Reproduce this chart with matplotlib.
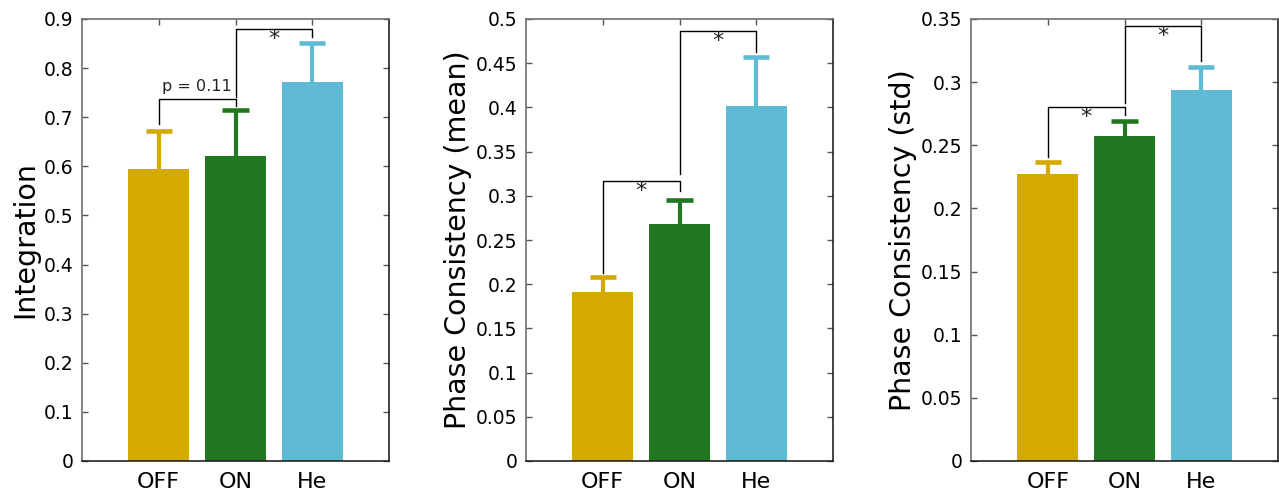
import matplotlib
matplotlib.use("Agg")
import matplotlib.pyplot as plt
import numpy as np

categories = ["OFF", "ON", "He"]
colors = ["#D4AA00", "#217821", "#5FBBD3"]

integration_mean = [0.595, 0.622, 0.771]
integration_err = [0.076, 0.093, 0.081]

pc_mean_mean = [0.191, 0.268, 0.402]
pc_mean_err = [0.017, 0.027, 0.055]

pc_std_mean = [0.2275, 0.2576, 0.2938]
pc_std_err = [0.009, 0.0114, 0.0184]

ylabels = ["Integration", "Phase Consistency (mean)", "Phase Consistency (std)"]
ylims = [0.9, 0.5, 0.35]
yticks = [np.arange(0, 0.91, 0.1), np.arange(0, 0.51, 0.05), np.arange(0, 0.351, 0.05)]

# brackets: (x1, x2, y_line, y_left_end, y_right_end, label)
brackets = [
    [(1, 2, 0.7365, 0.686, 0.723, "p = 0.11"), (2, 3, 0.8796, 0.742, 0.8627, "*")],
    [(1, 2, 0.3167, 0.213, 0.3054, "*"), (2, 3, 0.4864, 0.3247, 0.4623, "*")],
    [(1, 2, 0.2806, 0.2405, 0.274, "*"), (2, 3, 0.3442, 0.2833, 0.3167, "*")],
]

means = [integration_mean, pc_mean_mean, pc_std_mean]
errs = [integration_err, pc_mean_err, pc_std_err]

fig = plt.figure(figsize=(12.79, 4.93), dpi=100)
W, H = 1279, 493
lefts = [82, 526, 971]
axw = 307
top, bottom = 19, 461

x = np.arange(1, 4)
cap_half = 0.17
for i in range(3):
    ax = fig.add_axes([lefts[i] / W, 1 - bottom / H, axw / W, (bottom - top) / H])
    for j in range(3):
        m, e = means[i][j], errs[i][j]
        ax.bar(x[j], m, width=0.8, color=colors[j], edgecolor="none", zorder=2)
        ax.vlines(x[j], m, m + e, color=colors[j], lw=3, zorder=2)
        ax.hlines(m + e, x[j] - cap_half, x[j] + cap_half, color=colors[j], lw=3.3, zorder=2)
    ax.set_xlim(0, 4)
    ax.set_ylim(0, ylims[i])
    ax.set_xticks(x)
    ax.set_xticklabels(categories, fontsize=16)
    ax.set_yticks(yticks[i])
    ax.set_yticklabels([f"{v:g}" for v in yticks[i]], fontsize=13.5)
    ax.tick_params(direction="in", length=4, width=1, top=True, right=True,
                   color="#555555", pad=6)
    ax.tick_params(axis="x", bottom=False, pad=8)
    ax.set_ylabel(ylabels[i], fontsize=20.5, labelpad=3)
    for s in ["left", "top"]:
        ax.spines[s].set_color("#707070")
    for s in ["bottom", "right"]:
        ax.spines[s].set_color("#222222")
    for sp in ax.spines.values():
        sp.set_linewidth(1.2)

    for (x1, x2, yl, ya, yb, lab) in brackets[i]:
        ax.plot([x1, x1, x2, x2], [ya, yl, yl, yb], color="black", lw=1, zorder=3)
        xm = (x1 + x2) / 2
        if lab == "*":
            ax.text(xm, yl, "*", ha="center", va="top", fontsize=16, color="#222222")
        else:
            ax.text(xm, yl + ylims[i] * 0.012, lab, ha="center", va="bottom",
                    fontsize=11.5, color="#222222")

fig.savefig("out.png", dpi=100)
